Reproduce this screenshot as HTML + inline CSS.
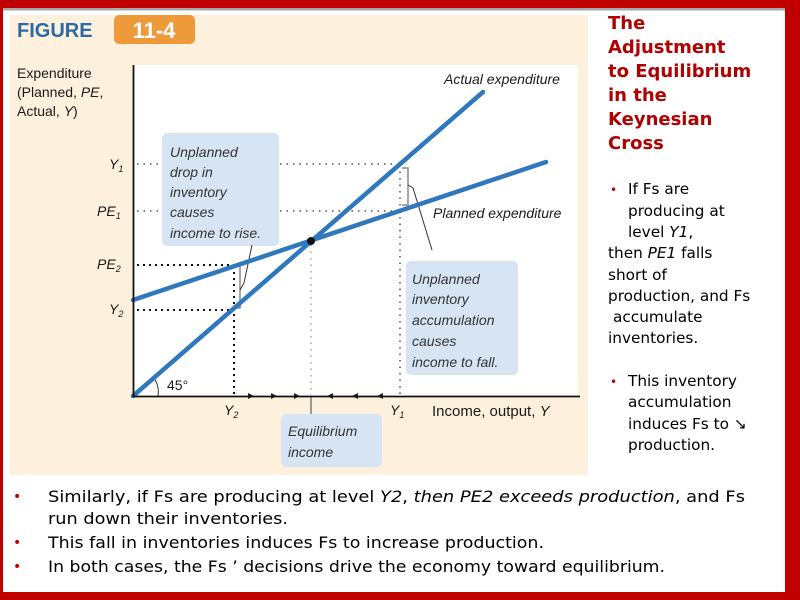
<!DOCTYPE html>
<html><head><meta charset="utf-8"><style>
html,body{margin:0;padding:0;width:800px;height:600px;overflow:hidden;background:#fff}
svg{display:block}
</style></head><body>
<svg width="800" height="600" viewBox="0 0 800 600" xmlns="http://www.w3.org/2000/svg">
<rect x="0" y="0" width="800" height="600" fill="#c00000"/>
<rect x="3" y="8" width="782" height="584" fill="#ffffff"/>
<rect x="3" y="8" width="782" height="2.5" fill="#a8a8a8"/>
<rect x="10" y="15" width="578" height="460" fill="#fdf0dc"/>
<text x="17" y="37" font-family="Liberation Sans, sans-serif" font-size="20" font-weight="bold" fill="#2a6aa6">FIGURE</text>
<rect x="114" y="15" width="81" height="29" rx="5" fill="#ef9a3a"/>
<text x="154" y="38" text-anchor="middle" font-family="Liberation Sans, sans-serif" font-size="22" font-weight="bold" fill="#fff">11-4</text>
<rect x="134" y="65" width="444" height="331" fill="#ffffff"/>
<g font-family="Liberation Sans, sans-serif" font-size="14" fill="#1a1a1a">
<text x="17" y="78">Expenditure</text>
<text x="17" y="97">(Planned, <tspan font-style="italic">PE</tspan>,</text>
<text x="17" y="116">Actual, <tspan font-style="italic">Y</tspan>)</text>
<g font-style="italic">
<text x="109" y="169">Y<tspan font-size="9" dy="3">1</tspan></text>
<text x="97" y="216">PE<tspan font-size="9" dy="3">1</tspan></text>
<text x="97" y="269">PE<tspan font-size="9" dy="3">2</tspan></text>
<text x="109" y="314">Y<tspan font-size="9" dy="3">2</tspan></text>
<text x="224" y="415">Y<tspan font-size="9" dy="3">2</tspan></text>
<text x="390" y="415">Y<tspan font-size="9" dy="3">1</tspan></text>
<text x="444" y="84">Actual expenditure</text>
<text x="433" y="218">Planned expenditure</text>
</g>
<text x="432" y="416" font-size="15">Income, output, <tspan font-style="italic">Y</tspan></text>
<text x="167" y="390">45°</text>
</g>
<g stroke="#333" stroke-width="1.3" stroke-dasharray="1.5 5" fill="none">
<line x1="137" y1="164" x2="400" y2="164"/>
<line x1="137" y1="211" x2="400" y2="211"/>
<line x1="400" y1="165" x2="400" y2="395"/>
<line x1="311" y1="245" x2="311" y2="395" stroke="#999"/>
</g>
<g stroke="#111" stroke-width="2" stroke-dasharray="2 4" fill="none">
<line x1="137" y1="265" x2="234" y2="265"/>
<line x1="137" y1="310" x2="234" y2="310"/>
<line x1="234" y1="266" x2="234" y2="395"/>
</g>
<rect x="162" y="133" width="117" height="113" rx="5" fill="#d6e4f4"/>
<rect x="406" y="261" width="112" height="114" rx="5" fill="#d6e4f4"/>
<rect x="281" y="414" width="101" height="53" rx="5" fill="#d6e4f4"/>
<g font-family="Liberation Sans, sans-serif" font-size="14" font-style="italic" fill="#333">
<text x="170" y="157">Unplanned</text><text x="170" y="177">drop in</text><text x="170" y="197">inventory</text><text x="170" y="217">causes</text><text x="170" y="238">income to rise.</text>
<text x="412" y="284">Unplanned</text><text x="412" y="304">inventory</text><text x="412" y="325">accumulation</text><text x="412" y="346">causes</text><text x="412" y="367">income to fall.</text>
<text x="288" y="436">Equilibrium</text><text x="288" y="457">income</text>
</g>
<path d="M402 168 L408 168 L408 205 L402 205" stroke="#888" stroke-width="1.5" fill="none"/>
<path d="M408 185 L413 188 L432 250" stroke="#333" stroke-width="1" fill="none"/>
<path d="M236 266 L240 266 L240 308 L236 308" stroke="#888" stroke-width="1.5" fill="none"/>
<path d="M240 290 L244 283 L252 245" stroke="#333" stroke-width="1" fill="none"/>
<line x1="311" y1="396" x2="311" y2="414" stroke="#999" stroke-width="2"/>
<path d="M158 396 A 25 25 0 0 0 154 378" stroke="#333" stroke-width="1" fill="none"/>
<g fill="#222">
<polygon points="248,393 254,396 248,399"/><polygon points="271,393 277,396 271,399"/><polygon points="294,393 300,396 294,399"/>
<polygon points="333,393 327,396 333,399"/><polygon points="358,393 352,396 358,399"/><polygon points="383,393 377,396 383,399"/>
</g>
<line x1="133" y1="396" x2="483" y2="92" stroke="#2f78bd" stroke-width="4.5" stroke-linecap="round"/>
<line x1="133" y1="300" x2="546" y2="162" stroke="#2f78bd" stroke-width="4.5" stroke-linecap="round"/>
<circle cx="311" cy="241" r="4" fill="#111"/>
<line x1="133.5" y1="65" x2="133.5" y2="397" stroke="#111" stroke-width="1.8"/>
<line x1="133" y1="396.5" x2="580" y2="396.5" stroke="#111" stroke-width="1.8"/>
<g font-family="DejaVu Sans, sans-serif" font-size="18" font-weight="bold" fill="#b00000">
<text x="608" y="29">The</text><text x="608" y="53">Adjustment</text><text x="608" y="77">to Equilibrium</text><text x="608" y="101">in the</text><text x="608" y="125">Keynesian</text><text x="608" y="149">Cross</text>
</g>
<g font-family="DejaVu Sans, sans-serif" font-size="15.3" fill="#000">
<text x="610" y="194" fill="#c00000" font-size="12">•</text>
<text x="628" y="194">If Fs are</text><text x="628" y="216">producing at</text><text x="628" y="237">level <tspan font-style="italic">Y1</tspan>,</text>
<text x="608" y="258">then <tspan font-style="italic">PE1</tspan> falls</text><text x="608" y="280">short of</text><text x="608" y="301">production, and Fs</text><text x="613" y="322">accumulate</text><text x="608" y="343">inventories.</text>
<text x="610" y="386" fill="#c00000" font-size="12">•</text>
<text x="628" y="386">This inventory</text><text x="628" y="407">accumulation</text><text x="628" y="429">induces Fs  to ↘</text><text x="628" y="450">production.</text>
</g>
<g font-family="DejaVu Sans, sans-serif" font-size="16" fill="#000">
<text x="13" y="501" fill="#c00000" font-size="14">•</text>
<text x="48" y="502" textLength="697" lengthAdjust="spacingAndGlyphs">Similarly, if Fs  are producing at level <tspan font-style="italic">Y2</tspan>, <tspan font-style="italic">then PE2 exceeds production</tspan>, and Fs</text>
<text x="48" y="524" textLength="240" lengthAdjust="spacingAndGlyphs">run down their inventories.</text>
<text x="13" y="547" fill="#c00000" font-size="14">•</text>
<text x="48" y="548" textLength="496" lengthAdjust="spacingAndGlyphs">This fall in inventories induces Fs  to increase production.</text>
<text x="13" y="571" fill="#c00000" font-size="14">•</text>
<text x="48" y="572" textLength="617" lengthAdjust="spacingAndGlyphs">In both cases, the Fs ’ decisions drive the economy toward equilibrium.</text>
</g>
</svg>
</body></html>
